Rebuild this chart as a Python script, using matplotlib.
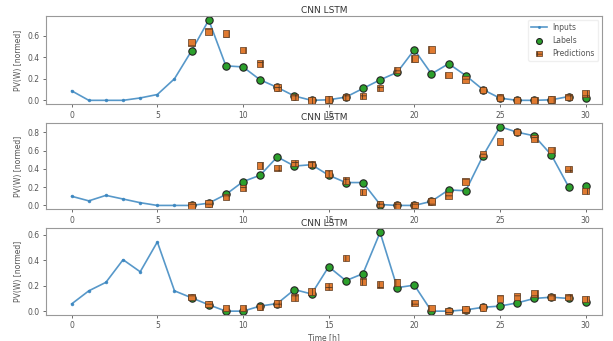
import matplotlib
matplotlib.use('Agg')
from matplotlib import pyplot as plt
import numpy as np

# 时间轴
input_hours = list(range(0, 30))
label_hours = list(range(7, 31))

# 面板1 数据
inputs_1 = [0.088, 0.0, 0.0, 0.0, 0.022, 0.054, 0.2, 0.46, 0.745, 0.32,
            0.31, 0.19, 0.12, 0.04, 0.0, 0.005, 0.03, 0.11, 0.19, 0.26,
            0.47, 0.245, 0.34, 0.23, 0.10, 0.02, 0.0, 0.0, 0.005, 0.035]
last_label_1 = 0.025
preds_1 = [0.535, 0.64, 0.62, 0.465, 0.34, 0.12, 0.03, 0.0, 0.01, 0.03,
           0.04, 0.115, 0.28, 0.39, 0.47, 0.235, 0.195, 0.095, 0.025, 0.0,
           0.0, 0.01, 0.03, 0.065]

# 面板2 数据
inputs_2 = [0.10, 0.05, 0.11, 0.07, 0.03, 0.0, 0.0, 0.0, 0.025, 0.12,
            0.26, 0.33, 0.53, 0.43, 0.445, 0.33, 0.25, 0.25, 0.01, 0.0,
            0.0, 0.045, 0.17, 0.16, 0.54, 0.86, 0.80, 0.76, 0.55, 0.205]
last_label_2 = 0.21
preds_2 = [0.0, 0.02, 0.09, 0.19, 0.435, 0.41, 0.465, 0.45, 0.35, 0.275,
           0.145, 0.015, 0.0, 0.005, 0.045, 0.11, 0.26, 0.56, 0.70, 0.80,
           0.73, 0.605, 0.40, 0.16]

# 面板3 数据
inputs_3 = [0.057, 0.16, 0.227, 0.405, 0.31, 0.545, 0.16, 0.105, 0.05, 0.0,
            0.0, 0.04, 0.06, 0.17, 0.135, 0.35, 0.24, 0.295, 0.62, 0.185,
            0.205, 0.0, 0.0, 0.01, 0.03, 0.04, 0.065, 0.10, 0.11, 0.10]
last_label_3 = 0.073
preds_3 = [0.11, 0.055, 0.026, 0.026, 0.034, 0.06, 0.107, 0.154, 0.193, 0.42,
           0.232, 0.21, 0.224, 0.065, 0.026, 0.0, 0.013, 0.03, 0.10, 0.115,
           0.14, 0.11, 0.11, 0.094]

panels = [(inputs_1, last_label_1, preds_1),
          (inputs_2, last_label_2, preds_2),
          (inputs_3, last_label_3, preds_3)]
titles = ['CNN LSTM', 'CNN LSTM', 'CNN LSTM']

plt.rcParams['font.family'] = ['DejaVu Sans']
plt.rcParams['hatch.linewidth'] = 0.6
text_col = '#555555'

fig = plt.figure(figsize=(6.13, 3.41), dpi=100)
# 三个子图的位置
boxes = [[0.075, 0.694, 0.907, 0.259],
         [0.075, 0.386, 0.907, 0.254],
         [0.075, 0.076, 0.907, 0.254]]

for i, (inp, last_lab, pred) in enumerate(panels):
    ax = fig.add_axes(boxes[i])
    labels = inp[7:] + [last_lab]
    ax.plot(input_hours, inp, label='Inputs', marker='.', markersize=3,
            color='#3a86c0', linewidth=1.2, zorder=-10, alpha=0.85)
    ax.scatter(label_hours, labels, edgecolors='#222222', label='Labels',
               c='#2ca02c', s=28, linewidths=0.8)
    ax.scatter(label_hours, pred, marker='s', edgecolors='#5a3a20', hatch='++',
               label='Predictions', c='#e07a30', s=22, linewidths=0.5)
    ax.set_xlim(-1.5, 30.95)
    ax.set_title(titles[i], fontsize=6.5, color='#333333', pad=2)
    ax.set_ylabel('PV(W) [normed]', fontsize=5.5, color=text_col, labelpad=3)
    ax.tick_params(labelsize=5.5, colors=text_col, length=2.5, width=0.6, pad=2)
    ax.set_xticks([0, 5, 10, 15, 20, 25, 30])
    for s in ax.spines.values():
        s.set_color('#999999')
        s.set_linewidth(0.8)
    if i == 0:
        leg = ax.legend(fontsize=5.5, loc='upper right', labelcolor=text_col,
                        borderpad=0.4, handletextpad=0.8, framealpha=0.9,
                        markerscale=0.8)
        leg.get_frame().set_edgecolor('#eeeeee')
    if i == 2:
        ax.set_xlabel('Time [h]', fontsize=5.5, color=text_col, labelpad=2)

fig.savefig('out.png', dpi=100)
